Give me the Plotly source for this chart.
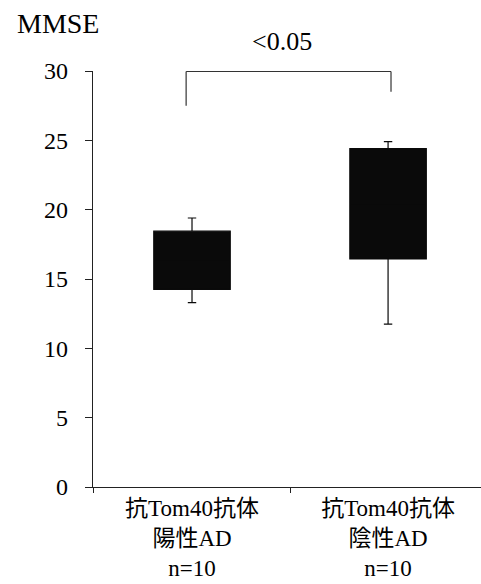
import plotly.graph_objects as go

categories = ["抗Tom40抗体<br>陽性AD<br>n=10", "抗Tom40抗体<br>陰性AD<br>n=10"]
lower_whisker = [13.3, 11.75]
q1_values = [14.25, 16.45]
median_values = [16.3, 20.4]
q3_values = [18.45, 24.4]
upper_whisker = [19.4, 24.9]
y_ticks = [0, 5, 10, 15, 20, 25, 30]
p_label = "&lt;0.05"
y_title = "MMSE"

SERIF = "Liberation Serif"
MIXED = "Liberation Serif, Noto Sans CJK JP"

fig = go.Figure()
fig.add_trace(go.Box(
    x=categories,
    q1=q1_values,
    median=median_values,
    q3=q3_values,
    lowerfence=lower_whisker,
    upperfence=upper_whisker,
    width=0.39,
    whiskerwidth=0.11,
    fillcolor="#0a0a0a",
    line=dict(color="#0a0a0a", width=1.2),
    showlegend=False,
    hoverinfo="skip",
))

# significance bracket
fig.add_shape(type="line", xref="x", yref="y", x0=-0.03, x1=1.015, y0=29.97, y1=29.97,
              line=dict(color="#333333", width=1.2))
fig.add_shape(type="line", xref="x", yref="y", x0=-0.03, x1=-0.03, y0=29.97, y1=27.5,
              line=dict(color="#333333", width=1.2))
fig.add_shape(type="line", xref="x", yref="y", x0=1.015, x1=1.015, y0=29.97, y1=28.5,
              line=dict(color="#333333", width=1.2))

fig.add_annotation(text=p_label, xref="x", yref="paper", x=0.46, y=1.072,
                   showarrow=False, xanchor="center", yanchor="middle",
                   font=dict(family=SERIF, size=26, color="black"))
fig.add_annotation(text=y_title, xref="paper", yref="paper", x=-0.2, y=1.113,
                   showarrow=False, xanchor="left", yanchor="middle",
                   font=dict(family=SERIF, size=28, color="black"))

fig.update_layout(
    width=481, height=584,
    margin=dict(l=93, r=0, t=71, b=97),
    paper_bgcolor="white", plot_bgcolor="white",
    font=dict(family=MIXED, color="black"),
)
fig.update_xaxes(
    type="category",
    range=[-0.505, 1.474],
    showline=True, linecolor="#222222", linewidth=1.2,
    ticks="outside", tickson="boundaries", ticklen=5, tickcolor="#222222",
    showgrid=False, zeroline=False,
    tickfont=dict(family=MIXED, size=23, color="black"),
)
fig.update_yaxes(
    range=[0, 30],
    tickvals=y_ticks,
    showline=True, linecolor="#222222", linewidth=1.2,
    ticks="outside", ticklen=7, tickcolor="#222222",
    showgrid=False, zeroline=False,
    ticklabelstandoff=12,
    tickfont=dict(family=SERIF, size=24, color="black"),
)

fig.write_html("out.html")
